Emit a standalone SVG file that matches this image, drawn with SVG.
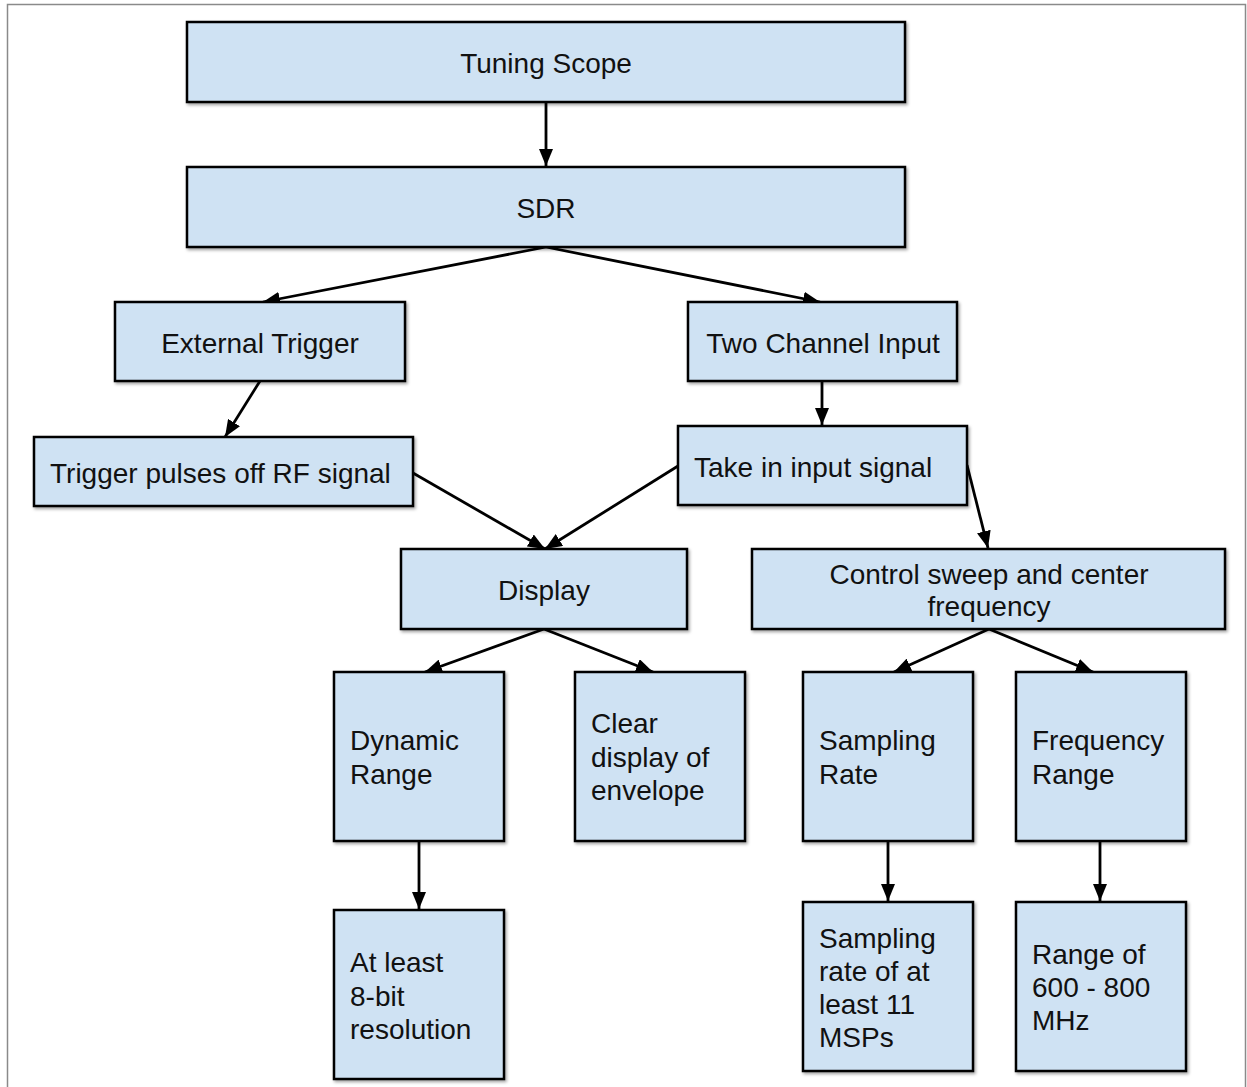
<svg xmlns="http://www.w3.org/2000/svg" width="1247" height="1087" viewBox="0 0 1247 1087">
<style>
.box{fill:#cfe2f3;stroke:#000;stroke-width:2.5;filter:url(#sh)}
.t{font-family:"Liberation Sans",Arial,sans-serif;font-size:28px;fill:#111}
.c{text-anchor:middle}
.e{stroke:#000;stroke-width:2.8;fill:none;marker-end:url(#ah)}
</style>
<defs>
<filter id="sh" x="-5%" y="-5%" width="115%" height="120%">
<feDropShadow dx="1.5" dy="2" stdDeviation="1.5" flood-color="#000" flood-opacity="0.35"/>
</filter>
<marker id="ah" viewBox="0 0 17 14" refX="17" refY="7" markerWidth="17" markerHeight="14" markerUnits="userSpaceOnUse" orient="auto">
<path d="M0,0 L17,7 L0,14 z" fill="#000"/>
</marker>
</defs>
<rect width="1247" height="1087" fill="#fff"/>
<path d="M7.5,1087 V4.5 H1245.5 V1087" fill="none" stroke="#8a8a8a" stroke-width="1.5"/>
<g id="connectors">
<line class="e" x1="546" y1="102" x2="546" y2="166"/>
<line class="e" x1="546" y1="247" x2="263" y2="302"/>
<line class="e" x1="546" y1="247" x2="820" y2="302"/>
<line class="e" x1="260" y1="381" x2="225" y2="437"/>
<line class="e" x1="822" y1="381" x2="822" y2="425"/>
<line class="e" x1="413" y1="473" x2="545" y2="549"/>
<line class="e" x1="678" y1="466" x2="545" y2="549"/>
<line class="e" x1="967" y1="465" x2="988" y2="548"/>
<line class="e" x1="544" y1="629" x2="425" y2="672"/>
<line class="e" x1="544" y1="629" x2="653" y2="672"/>
<line class="e" x1="989" y1="629" x2="894" y2="672"/>
<line class="e" x1="989" y1="629" x2="1093" y2="672"/>
<line class="e" x1="419" y1="841" x2="419" y2="909"/>
<line class="e" x1="888" y1="841" x2="888" y2="901"/>
<line class="e" x1="1100" y1="841" x2="1100" y2="901"/>
</g>
<g id="tuning-scope"><rect class="box" x="187" y="22" width="718" height="80"/><text class="t c" x="546" y="73">Tuning Scope</text></g>
<g id="sdr"><rect class="box" x="187" y="167" width="718" height="80"/><text class="t c" x="546" y="218">SDR</text></g>
<g id="external-trigger"><rect class="box" x="115" y="302" width="290" height="79"/><text class="t c" x="260" y="353">External Trigger</text></g>
<g id="two-channel-input"><rect class="box" x="688" y="302" width="269" height="79"/><text class="t c" x="823" y="353">Two Channel Input</text></g>
<g id="trigger-pulses"><rect class="box" x="34" y="437" width="379" height="69"/><text class="t" x="50" y="483">Trigger pulses off RF signal</text></g>
<g id="take-in-input"><rect class="box" x="678" y="426" width="289" height="79"/><text class="t" x="694" y="477">Take in input signal</text></g>
<g id="display"><rect class="box" x="401" y="549" width="286" height="80"/><text class="t c" x="544" y="600">Display</text></g>
<g id="control-sweep"><rect class="box" x="752" y="549" width="473" height="80"/><text class="t c" x="989" y="584">Control sweep and center</text><text class="t c" x="989" y="616">frequency</text></g>
<g id="dynamic-range"><rect class="box" x="334" y="672" width="170" height="169"/><text class="t" x="350" y="750">Dynamic</text><text class="t" x="350" y="784">Range</text></g>
<g id="clear-display"><rect class="box" x="575" y="672" width="170" height="169"/><text class="t" x="591" y="733">Clear</text><text class="t" x="591" y="767">display of</text><text class="t" x="591" y="800">envelope</text></g>
<g id="sampling-rate"><rect class="box" x="803" y="672" width="170" height="169"/><text class="t" x="819" y="750">Sampling</text><text class="t" x="819" y="784">Rate</text></g>
<g id="frequency-range"><rect class="box" x="1016" y="672" width="170" height="169"/><text class="t" x="1032" y="750">Frequency</text><text class="t" x="1032" y="784">Range</text></g>
<g id="eight-bit"><rect class="box" x="334" y="910" width="170" height="169"/><text class="t" x="350" y="972">At least</text><text class="t" x="350" y="1006">8-bit</text><text class="t" x="350" y="1039">resolution</text></g>
<g id="sampling-11"><rect class="box" x="803" y="902" width="170" height="169"/><text class="t" x="819" y="948">Sampling</text><text class="t" x="819" y="981">rate of at</text><text class="t" x="819" y="1014">least 11</text><text class="t" x="819" y="1047">MSPs</text></g>
<g id="range-600-800"><rect class="box" x="1016" y="902" width="170" height="169"/><text class="t" x="1032" y="964">Range of</text><text class="t" x="1032" y="997">600 - 800</text><text class="t" x="1032" y="1030">MHz</text></g>
</svg>
